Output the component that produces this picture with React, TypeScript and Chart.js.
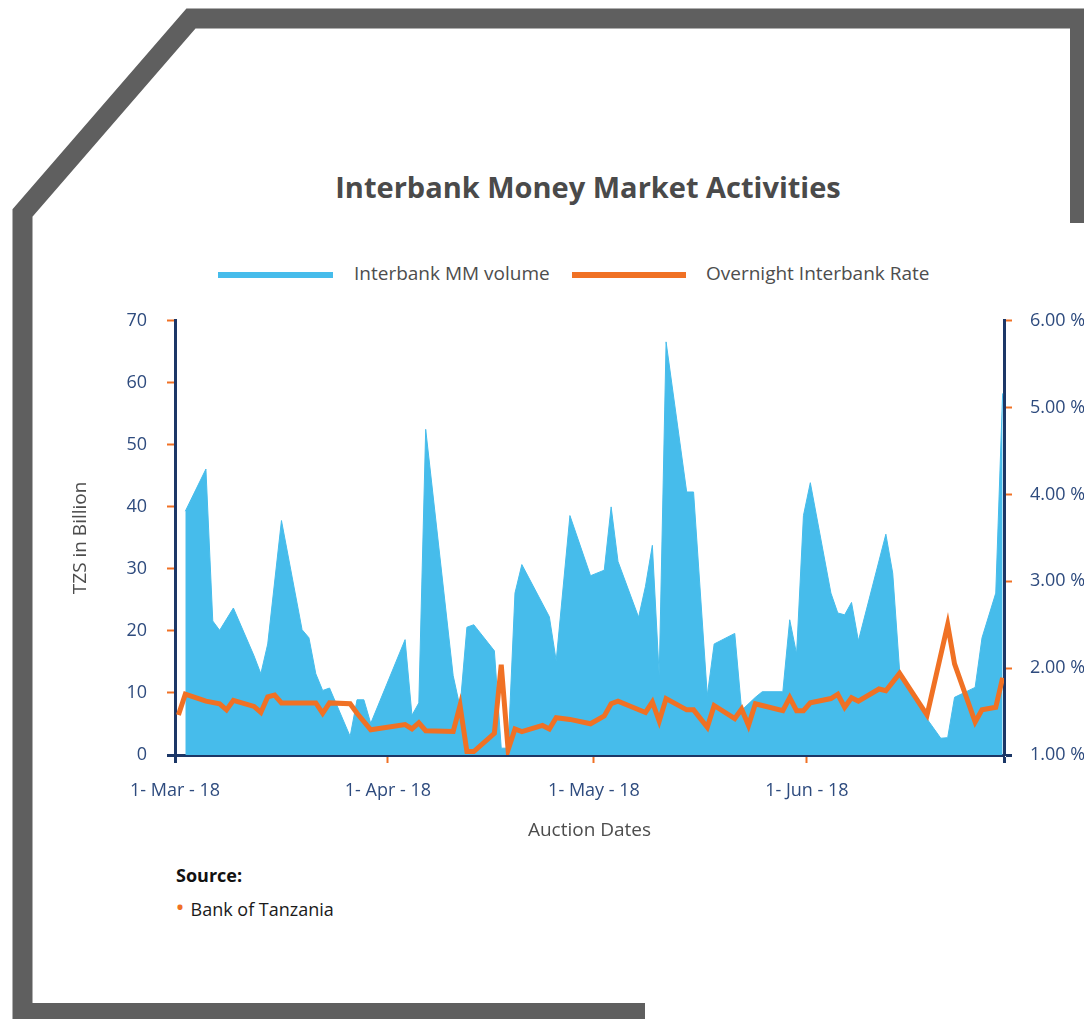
import React, { useEffect, useRef } from 'react';
import { Chart, registerables } from 'chart.js';

Chart.register(...registerables);

// ---------- data ----------
const volumeDates = [
  '2018-03-02', '2018-03-05', '2018-03-06', '2018-03-07', '2018-03-09', '2018-03-12', '2018-03-13', '2018-03-14',
  '2018-03-16', '2018-03-19', '2018-03-20', '2018-03-21', '2018-03-22', '2018-03-23', '2018-03-26', '2018-03-27',
  '2018-03-28', '2018-03-29', '2018-04-03', '2018-04-04', '2018-04-05', '2018-04-06', '2018-04-10', '2018-04-11',
  '2018-04-12', '2018-04-13', '2018-04-16', '2018-04-17', '2018-04-18', '2018-04-19', '2018-04-20', '2018-04-24',
  '2018-04-25', '2018-04-27', '2018-04-30', '2018-05-02', '2018-05-03', '2018-05-04', '2018-05-07', '2018-05-08',
  '2018-05-09', '2018-05-10', '2018-05-11', '2018-05-14', '2018-05-15', '2018-05-17', '2018-05-18', '2018-05-21',
  '2018-05-22', '2018-05-24', '2018-05-25', '2018-05-28', '2018-05-29', '2018-05-30', '2018-05-31', '2018-06-01',
  '2018-06-04', '2018-06-05', '2018-06-06', '2018-06-07', '2018-06-08', '2018-06-12', '2018-06-13', '2018-06-14',
  '2018-06-18', '2018-06-20', '2018-06-21', '2018-06-22', '2018-06-25', '2018-06-26', '2018-06-28', '2018-06-29',
];
const volumeValues = [
  39.3, 46.1, 21.6, 20.1, 23.7, 16.0, 13.1, 17.9,
  37.8, 20.2, 18.9, 13.1, 10.4, 10.8, 3.0, 8.9,
  8.9, 5.1, 18.6, 6.4, 8.4, 52.5, 12.8, 7.7,
  20.6, 21.0, 16.8, 1.1, 1.1, 26.1, 30.7, 22.3,
  15.2, 38.6, 28.9, 29.8, 40.0, 31.2, 22.2, 27.2,
  33.8, 12.8, 66.6, 42.4, 42.4, 9.6, 17.9, 19.6,
  7.2, 9.3, 10.2, 10.2, 21.8, 16.3, 38.6, 43.9,
  26.1, 22.9, 22.6, 24.6, 18.4, 35.6, 29.3, 13.6,
  5.8, 2.7, 2.8, 9.3, 10.9, 18.9, 26.1, 58.3,
];

const rateDates = [
  '2018-03-01', '2018-03-02', '2018-03-05', '2018-03-07', '2018-03-08', '2018-03-09', '2018-03-12', '2018-03-13',
  '2018-03-14', '2018-03-15', '2018-03-16', '2018-03-21', '2018-03-22', '2018-03-23', '2018-03-26', '2018-03-27',
  '2018-03-29', '2018-04-03', '2018-04-04', '2018-04-05', '2018-04-06', '2018-04-10', '2018-04-11', '2018-04-12',
  '2018-04-13', '2018-04-16', '2018-04-17', '2018-04-18', '2018-04-19', '2018-04-20', '2018-04-23', '2018-04-24',
  '2018-04-25', '2018-04-27', '2018-04-30', '2018-05-02', '2018-05-03', '2018-05-04', '2018-05-08', '2018-05-09',
  '2018-05-10', '2018-05-11', '2018-05-14', '2018-05-15', '2018-05-17', '2018-05-18', '2018-05-21', '2018-05-22',
  '2018-05-23', '2018-05-24', '2018-05-25', '2018-05-28', '2018-05-29', '2018-05-30', '2018-05-31', '2018-06-01',
  '2018-06-04', '2018-06-05', '2018-06-06', '2018-06-07', '2018-06-08', '2018-06-11', '2018-06-12', '2018-06-14',
  '2018-06-18', '2018-06-21', '2018-06-22', '2018-06-25', '2018-06-26', '2018-06-28', '2018-06-29',
];
const rateValues = [
  1.46, 1.70, 1.62, 1.59, 1.52, 1.63, 1.56, 1.49,
  1.67, 1.69, 1.60, 1.60, 1.48, 1.60, 1.59, 1.48,
  1.29, 1.35, 1.30, 1.37, 1.28, 1.27, 1.57, 1.04,
  1.04, 1.25, 2.04, 1.06, 1.30, 1.27, 1.34, 1.30,
  1.43, 1.41, 1.36, 1.45, 1.59, 1.62, 1.49, 1.61,
  1.39, 1.65, 1.52, 1.52, 1.32, 1.57, 1.42, 1.53,
  1.34, 1.59, 1.57, 1.51, 1.66, 1.51, 1.51, 1.60,
  1.65, 1.70, 1.55, 1.66, 1.62, 1.76, 1.74, 1.94,
  1.46, 2.50, 2.05, 1.38, 1.52, 1.55, 1.89,
];

const xTickDates = ['2018-03-01', '2018-04-01', '2018-05-01', '2018-06-01'];
const xTickLabels = ['1- Mar - 18', '1- Apr - 18', '1- May - 18', '1- Jun - 18'];
const axisStartDate = '2018-03-01';
const axisEndDay = 120.7;

const TITLE = 'Interbank Money Market Activities';
const VOLUME_LABEL = 'Interbank MM volume';
const RATE_LABEL = 'Overnight Interbank Rate';

// ---------- styles ----------
const NAVY = '#1C3767';
const LABEL = '#2E4B7E';
const ORANGE = '#F07124';
const BLUE = '#46BCEB';
const GRAY = '#4D4D4D';
const FRAME = '#5F5F5F';
const FONT = "'Open Sans', 'Noto Sans', sans-serif";

function dayIndex(s: string): number {
  const [y, m, d] = s.split('-').map(Number);
  const [y0, m0, d0] = axisStartDate.split('-').map(Number);
  return (Date.UTC(y, m - 1, d) - Date.UTC(y0, m0 - 1, d0)) / 86400000;
}

export default function App() {
  const ref = useRef<HTMLCanvasElement>(null);

  useEffect(() => {
    if (!ref.current) return;
    const tickColor = (c: any) => (c.index === 0 ? NAVY : ORANGE);
    const tickWidth = (c: any) => (c.index === 0 ? 3 : 2);
    const chart = new Chart(ref.current, {
      type: 'line',
      data: {
        datasets: [
          {
            label: RATE_LABEL,
            data: rateDates.map((d, i) => ({ x: dayIndex(d) + 0.5, y: rateValues[i] })),
            yAxisID: 'y1',
            borderColor: ORANGE,
            backgroundColor: ORANGE,
            borderWidth: 5,
            borderJoinStyle: 'miter',
            pointRadius: 0,
            fill: false,
            tension: 0,
            order: 0,
          },
          {
            label: VOLUME_LABEL,
            data: volumeDates.map((d, i) => ({ x: dayIndex(d) + 0.5, y: volumeValues[i] })),
            yAxisID: 'y',
            borderColor: BLUE,
            backgroundColor: BLUE,
            borderWidth: 1,
            pointRadius: 0,
            fill: 'origin',
            tension: 0,
            order: 1,
          },
        ],
      },
      options: {
        responsive: false,
        animation: false,
        layout: { padding: { top: 27, left: 69, right: 0, bottom: 5 } },
        plugins: {
          legend: { display: false },
          tooltip: { enabled: false },
          title: { display: false },
        },
        scales: {
          x: {
            type: 'linear',
            position: 'bottom',
            min: 0,
            max: axisEndDay,
            z: 1,
            afterBuildTicks: (s: any) => {
              s.ticks = [...xTickDates.map((d) => ({ value: dayIndex(d) })), { value: axisEndDay }];
            },
            afterFit: (s: any) => {
              s.height = 87;
            },
            ticks: {
              autoSkip: false,
              maxRotation: 0,
              padding: 17,
              color: LABEL,
              font: { family: FONT, size: 18 },
              callback: (_v: any, i: number) => xTickLabels[i] ?? '',
            },
            grid: {
              display: true,
              drawOnChartArea: false,
              drawTicks: true,
              tickLength: 8,
              tickColor: (c: any) => (c.index === 0 || c.index === xTickDates.length ? NAVY : ORANGE),
              tickWidth: (c: any) => (c.index === 0 || c.index === xTickDates.length ? 3 : 2),
            },
            border: { display: true, color: NAVY, width: 3 },
            title: {
              display: true,
              text: 'Auction Dates',
              color: GRAY,
              font: { family: FONT, size: 19 },
              padding: 0,
            },
          },
          y: {
            type: 'linear',
            position: 'left',
            min: 0,
            max: 70,
            z: 1,
            afterFit: (s: any) => {
              s.width = 106;
            },
            ticks: {
              stepSize: 10,
              padding: 20,
              color: LABEL,
              font: { family: FONT, size: 18 },
            },
            grid: {
              display: true,
              drawOnChartArea: false,
              drawTicks: true,
              tickLength: 8,
              tickColor,
              tickWidth,
            },
            border: { display: true, color: NAVY, width: 3 },
            title: {
              display: true,
              text: 'TZS in Billion',
              color: GRAY,
              font: { family: FONT, size: 19 },
              padding: 0,
            },
          },
          y1: {
            type: 'linear',
            position: 'right',
            min: 1,
            max: 6,
            z: 1,
            afterFit: (s: any) => {
              s.width = 80;
            },
            ticks: {
              stepSize: 1,
              padding: 18,
              color: LABEL,
              font: { family: FONT, size: 18 },
              callback: (v: any) => Number(v).toFixed(2) + ' %',
            },
            grid: {
              display: true,
              drawOnChartArea: false,
              drawTicks: true,
              tickLength: 8,
              tickColor,
              tickWidth,
            },
            border: { display: true, color: NAVY, width: 3 },
          },
        },
      },
    } as any);
    return () => chart.destroy();
  }, []);

  const abs: React.CSSProperties = { position: 'absolute', whiteSpace: 'nowrap', fontFamily: FONT };

  return (
    <div
      style={{
        position: 'absolute',
        left: 0,
        top: 0,
        width: 1084,
        height: 1019,
        overflow: 'hidden',
        background: '#ffffff',
      }}
    >
      <svg width={1084} height={1019} style={{ position: 'absolute', left: 0, top: 0 }}>
        <polyline
          points="1080,223 1080,18.5 191,18.5 22.5,213 22.5,1013 645,1013"
          fill="none"
          stroke={FRAME}
          strokeWidth={20}
          strokeLinejoin="miter"
          strokeMiterlimit={10}
        />
      </svg>

      <div
        style={{
          ...abs,
          left: 88,
          width: 1000,
          top: 170,
          textAlign: 'center',
          fontSize: 29,
          lineHeight: '34px',
          fontWeight: 700,
          color: '#4A4A4A',
        }}
      >
        {TITLE}
      </div>

      <div style={{ position: 'absolute', left: 218, top: 272, width: 115, height: 6, background: BLUE }} />
      <div style={{ ...abs, left: 354, top: 260.6, fontSize: 19, lineHeight: '24px', color: GRAY }}>{VOLUME_LABEL}</div>
      <div style={{ position: 'absolute', left: 572, top: 272, width: 114, height: 6, background: ORANGE }} />
      <div style={{ ...abs, left: 706, top: 260.6, fontSize: 19, lineHeight: '24px', color: GRAY }}>{RATE_LABEL}</div>

      <canvas
        ref={ref}
        width={1084}
        height={557}
        style={{ position: 'absolute', left: 0, top: 290, width: 1084, height: 557 }}
      />

      <div style={{ ...abs, left: 176, top: 863, fontSize: 18, lineHeight: '24px', fontWeight: 700, color: '#111111' }}>
        Source:
      </div>
      <div style={{ ...abs, left: 175.5, top: 895, fontSize: 24, lineHeight: '24px', color: ORANGE }}>•</div>
      <div style={{ ...abs, left: 190.5, top: 896.7, fontSize: 18, lineHeight: '24px', color: '#1A1A1A' }}>
        Bank of Tanzania
      </div>
    </div>
  );
}
